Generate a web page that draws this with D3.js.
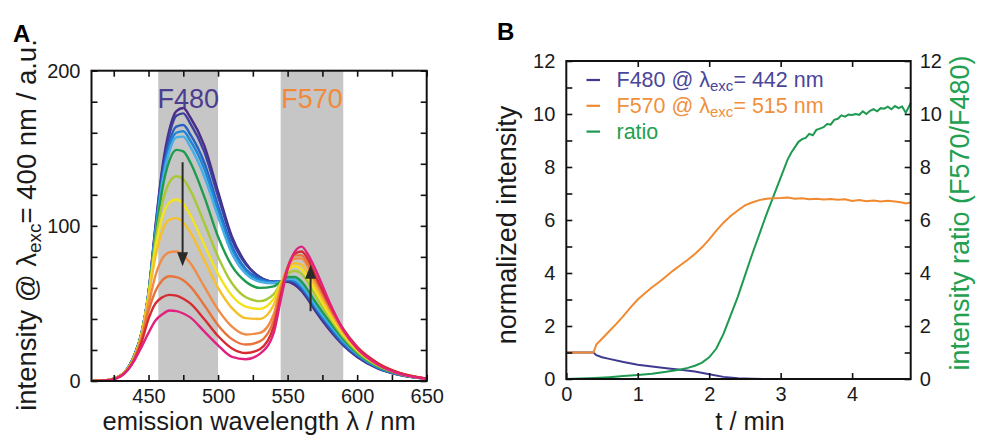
<!DOCTYPE html>
<html>
<head>
<meta charset="utf-8">
<script src="https://cdn.jsdelivr.net/npm/d3@7"></script>
<style>
  body { margin: 0; background: #fff; }
  text { font-family: "Liberation Sans", Arial, Helvetica, sans-serif; }
</style>
</head>
<body>
<script>
// ---- panel A: emission spectra ----
var wavelengths = [410, 420, 430, 440, 445, 450, 455, 460, 465, 470, 475, 480, 490, 500, 510,
                   520, 530, 540, 545, 550, 555, 560, 565, 570, 580, 590, 600, 615, 630, 650];

var spec0  = [0, 0.5, 3.5, 17, 31, 57, 100, 138, 162, 174, 176, 170, 152, 122, 93, 76, 67, 64, 64, 64, 62, 58, 52, 45, 33, 23, 15.5, 8, 4, 1.5];
var spec1  = [0, 0.5, 3.5, 17, 31, 57, 99, 136, 159, 171, 172.5, 166, 148, 119, 91, 75, 67, 64, 64, 64.5, 63, 59, 53, 46, 34, 23.5, 16, 8.3, 4.1, 1.5];
var spec2  = [0, 0.5, 3.5, 17, 31, 57, 97, 132, 154, 164, 165, 159, 141, 113, 87, 72, 66, 64, 64, 65, 64, 60, 54, 47, 35, 24, 16.5, 8.5, 4.2, 1.5];
var spec3  = [0, 0.5, 3.5, 17, 31, 57, 96, 130, 151, 160, 161, 155, 137, 110, 85, 71, 65, 63.5, 64, 65.5, 64.5, 61, 55, 48, 36, 25, 17, 8.7, 4.3, 1.5];
var spec4  = [0, 0.5, 3.5, 17, 31, 56, 95, 128, 148, 157, 157.5, 151, 132, 106, 82, 69, 64, 63, 64, 66, 65.5, 62, 56, 49, 37, 26, 17.5, 9, 4.4, 1.5];
var spec5  = [0, 0.5, 3.5, 17, 31, 56, 93, 124, 142, 149, 148, 141, 119, 93, 74, 64, 60, 61, 64, 67, 67, 64, 58, 51, 38.5, 27, 18, 9.3, 4.5, 1.5];
var spec6  = [0, 0.5, 3.5, 16, 30, 56, 90, 115, 128, 132, 130, 123, 102, 80, 63, 54, 51.5, 56, 63, 69, 71, 69, 63, 55, 41, 28.5, 19, 9.8, 4.7, 1.5];
var spec7  = [0, 0.5, 3.5, 16, 30, 55, 86, 106, 115, 117, 114, 107, 88, 69, 55, 48, 46.5, 53, 63, 71, 74, 72, 66, 58, 43, 30, 20, 10.3, 4.9, 1.5];
var spec8  = [0, 0.5, 3.5, 16, 30, 54, 80, 97, 104, 105, 102, 96, 78, 60, 47, 40.5, 40, 49, 62, 72, 76, 75, 69, 61, 45, 31, 20.5, 10.6, 5, 1.5];
var spec9  = [0, 0.4, 3.3, 15, 28, 49, 68, 79, 83, 83.5, 81, 76, 61, 46, 35, 30, 31, 43, 60, 73, 79, 79, 73, 64, 47, 32, 21, 11, 5.2, 1.5];
var spec10 = [0, 0.4, 3.2, 15, 27, 45, 58, 65, 67.5, 67, 65, 61, 49, 36, 27, 23.5, 25.5, 39, 58, 73, 81, 81, 75, 66, 48, 33, 21.5, 11.2, 5.3, 1.5];
var spec11 = [0, 0.4, 3.1, 14, 25, 40, 50, 54, 55.5, 55, 53, 50, 40, 29, 21, 18, 20.5, 35, 55, 73, 82, 83.5, 78, 68, 49.5, 33.5, 22, 11.5, 5.4, 1.5];
var spec12 = [0, 0.3, 3, 13.5, 22, 31, 39, 43, 45.4, 45, 43.5, 41, 32, 23, 15.5, 14, 17.5, 31, 52, 72, 83, 86.6, 81, 72, 51, 33, 21, 10.5, 4.8, 1.5];

var spectra = [spec0, spec1, spec2, spec3, spec4, spec5, spec6, spec7, spec8, spec9, spec10, spec11, spec12];
var spectraColors = ["#4a2c86", "#3b3f9e", "#2a62c2", "#1f88d6", "#48aee4", "#1e9b4f", "#a8c834",
                     "#f2e31c", "#f6c02c", "#f08c48", "#e9733c", "#d62b30", "#e2207e"];

var bands = [[457, 500], [545, 590]];
var bandLabels = ["F480", "F570"];
var bandColors = ["#4b3d8f", "#f08a3a"];

// arrows: wavelength, start value, tip value
var arrows = [[474.5, 141, 74], [566.5, 45, 75]];

// ---- panel B: kinetics ----
var f480Time  = [0, 0.38, 0.42, 0.5, 0.6, 0.8, 1.0, 1.2, 1.4, 1.6, 1.8, 2.0, 2.2, 2.4, 2.6, 2.8, 3.0, 4.82];
var f480Value = [1, 1, 0.9, 0.82, 0.76, 0.64, 0.54, 0.47, 0.41, 0.35, 0.28, 0.18, 0.08, 0.03, 0.01, 0, 0, 0];

var f570Time  = [0, 0.38, 0.42, 0.5, 0.6, 0.7, 0.8, 0.9, 1.0, 1.1, 1.2, 1.3, 1.4, 1.5, 1.6, 1.7, 1.8, 1.9, 2.0,
                 2.1, 2.2, 2.3, 2.4, 2.5, 2.6, 2.7, 2.8, 2.9, 3.0, 3.1, 3.2, 3.3, 3.4, 3.5, 3.6, 3.7, 3.8,
                 3.9, 4.0, 4.1, 4.2, 4.3, 4.4, 4.5, 4.6, 4.7, 4.75, 4.82];
var f570Value = [1, 1, 1.3, 1.52, 1.8, 2.08, 2.38, 2.7, 3.0, 3.24, 3.46, 3.66, 3.88, 4.1, 4.3, 4.5, 4.72, 4.97, 5.27,
                 5.6, 5.9, 6.15, 6.36, 6.55, 6.66, 6.75, 6.8, 6.82, 6.83, 6.85, 6.8, 6.82, 6.78, 6.8, 6.77, 6.79, 6.76,
                 6.78, 6.72, 6.75, 6.71, 6.74, 6.7, 6.73, 6.7, 6.66, 6.62, 6.66];

var ratioTime  = [0, 0.2, 0.4, 0.6, 0.8, 1.0, 1.2, 1.4, 1.6, 1.7, 1.8, 1.9, 2.0, 2.1, 2.2, 2.3, 2.4, 2.5, 2.6,
                  2.7, 2.8, 2.9, 3.0, 3.05, 3.1, 3.15, 3.2, 3.25, 3.3, 3.35, 3.4, 3.45, 3.5, 3.55, 3.6, 3.65,
                  3.7, 3.75, 3.8, 3.85, 3.9, 3.95, 4.0, 4.05, 4.1, 4.15, 4.2, 4.25, 4.3, 4.35, 4.4, 4.45,
                  4.5, 4.55, 4.6, 4.65, 4.7, 4.75, 4.8, 4.82];
var ratioValue = [0, 0.02, 0.04, 0.07, 0.11, 0.15, 0.2, 0.27, 0.36, 0.42, 0.5, 0.62, 0.82, 1.15, 1.7, 2.4, 3.1, 3.9, 4.7,
                  5.45, 6.2, 6.9, 7.6, 7.95, 8.3, 8.55, 8.75, 8.95, 9.05, 9.1, 9.25, 9.2, 9.4, 9.45, 9.5, 9.62,
                  9.6, 9.78, 9.82, 9.95, 9.9, 9.98, 9.96, 10.0, 9.97, 10.1, 10.0, 10.12, 10.18, 10.1, 10.22, 10.2,
                  10.28, 10.18, 10.3, 10.22, 10.28, 10.05, 10.3, 10.42];

var legendLabels = ["F480 @ λ", "F570 @ λ", "ratio"];
var legendColors = ["#3d3a8f", "#f08a30", "#1e9a50"];
var legendText   = ["#4a4699", "#f0903c", "#22a050"];
var legendTail   = ["= 442 nm", "= 515 nm", ""];

var svg = d3.select("body")
            .append("svg")
            .attr("width", 982)
            .attr("height", 436);

// ================= panel A =================
var xA = d3.scaleLinear().domain([409, 650]).range([91.5, 426.7]);
var yA = d3.scaleLinear().domain([0, 200]).range([381, 70.7]);

svg.append("clipPath").attr("id", "clipA")
   .append("rect")
   .attr("x", xA.range()[0]).attr("y", yA.range()[1])
   .attr("width", xA.range()[1] - xA.range()[0])
   .attr("height", yA.range()[0] - yA.range()[1]);

svg.selectAll(".band")
   .data(bands)
   .enter().append("rect")
   .attr("class", "band")
   .attr("x", function(d) { return xA(d[0]); })
   .attr("width", function(d) { return xA(d[1]) - xA(d[0]); })
   .attr("y", yA(200))
   .attr("height", yA(0) - yA(200))
   .attr("fill", "#c6c6c6");

var lineA = d3.line()
    .x(function(d, i) { return xA(wavelengths[i]); })
    .y(function(d) { return yA(d); })
    .curve(d3.curveMonotoneX);

svg.append("g")
   .attr("clip-path", "url(#clipA)")
   .selectAll("path")
   .data(spectra)
   .enter().append("path")
   .attr("d", lineA)
   .attr("fill", "none")
   .attr("stroke", function(d, i) { return spectraColors[i]; })
   .attr("stroke-width", 2.4);

// arrows
arrows.forEach(function(a) {
  var x = xA(a[0]), y0 = yA(a[1]), y1 = yA(a[2]);
  var dir = y1 > y0 ? 1 : -1;
  svg.append("line")
     .attr("x1", x).attr("x2", x)
     .attr("y1", y0).attr("y2", y1 - dir * 12)
     .attr("stroke", "#2a2a2a").attr("stroke-width", 2);
  svg.append("path")
     .attr("d", "M" + (x - 5.5) + "," + (y1 - dir * 14) + "L" + (x + 5.5) + "," + (y1 - dir * 14) + "L" + x + "," + y1 + "Z")
     .attr("fill", "#2a2a2a");
});

// band labels
svg.selectAll(".bandLabel")
   .data(bands)
   .enter().append("text")
   .attr("x", function(d) { return (xA(d[0]) + xA(d[1])) / 2; })
   .attr("y", 108)
   .attr("text-anchor", "middle")
   .style("font-size", "27px")
   .attr("fill", function(d, i) { return bandColors[i]; })
   .text(function(d, i) { return bandLabels[i]; });

// axes: inward ticks, no domain line, unlabeled ticks carry no text
function styleAxis(g) {
  g.select(".domain").remove();
  g.selectAll(".tick line").attr("stroke", "#111").attr("stroke-width", 1.6);
  g.selectAll(".tick text").filter(function() { return this.textContent === ""; }).remove();
  g.selectAll(".tick text").attr("fill", "#1a1a1a").style("font-size", "20px")
   .style("font-family", "'Liberation Sans', Arial, sans-serif");
}

var xTicksA = d3.range(425, 651, 25);
var yTicksA = d3.range(0, 201, 20);

svg.append("g").attr("transform", "translate(0," + yA(0) + ")")
   .call(d3.axisBottom(xA).tickValues(xTicksA).tickSizeInner(-6).tickSizeOuter(0).tickPadding(8)
         .tickFormat(function(d) { return d % 50 === 0 ? d : ""; }))
   .call(styleAxis);
svg.append("g").attr("transform", "translate(0," + yA(200) + ")")
   .call(d3.axisTop(xA).tickValues(xTicksA).tickSizeInner(-6).tickSizeOuter(0).tickFormat(""))
   .call(styleAxis);
svg.append("g").attr("transform", "translate(" + xA(409) + ",0)")
   .call(d3.axisLeft(yA).tickValues(yTicksA).tickSizeInner(-6).tickSizeOuter(0).tickPadding(11)
         .tickFormat(function(d) { return d % 100 === 0 ? d : ""; }))
   .call(styleAxis);
svg.append("g").attr("transform", "translate(" + xA(650) + ",0)")
   .call(d3.axisRight(yA).tickValues(yTicksA).tickSizeInner(-6).tickSizeOuter(0).tickFormat(""))
   .call(styleAxis);

svg.append("rect")
   .attr("x", xA(409)).attr("y", yA(200))
   .attr("width", xA(650) - xA(409)).attr("height", yA(0) - yA(200))
   .attr("fill", "none").attr("stroke", "#111").attr("stroke-width", 2);

// titles A
svg.append("text")
   .attr("x", (xA(409) + xA(650)) / 2).attr("y", 430)
   .attr("text-anchor", "middle")
   .style("font-size", "25.5px").attr("fill", "#1a1a1a")
   .text("emission wavelength λ / nm");

var yTitleA = svg.append("text")
   .attr("transform", "translate(36,225) rotate(-90)")
   .attr("text-anchor", "middle")
   .style("font-size", "27.5px").attr("fill", "#1a1a1a");
yTitleA.append("tspan").text("intensity @ λ");
yTitleA.append("tspan").attr("dy", 5).style("font-size", "19px").text("exc");
yTitleA.append("tspan").attr("dy", -5).text("= 400 nm / a.u.");

svg.append("text").attr("x", 13).attr("y", 42)
   .style("font-size", "24px").style("font-weight", "bold").text("A");

// ================= panel B =================
var xB = d3.scaleLinear().domain([0, 4.82]).range([566.3, 910.7]);
var yB = d3.scaleLinear().domain([0, 12]).range([379, 61]);

var lineB = d3.line()
    .x(function(d) { return xB(d[0]); })
    .y(function(d) { return yB(d[1]); });

var seriesB = [
  [d3.zip(f480Time, f480Value), legendColors[0]],
  [d3.zip(ratioTime, ratioValue), legendColors[2]],
  [d3.zip(f570Time, f570Value), legendColors[1]]
];

seriesB.forEach(function(s) {
  svg.append("path")
     .attr("d", lineB(s[0]))
     .attr("fill", "none")
     .attr("stroke", s[1])
     .attr("stroke-width", 2);
});

var yTicksB = d3.range(0, 13, 1);
var xTicksB = [1, 2, 3, 4];

svg.append("g").attr("transform", "translate(0," + yB(0) + ")")
   .call(d3.axisBottom(xB).tickValues([0].concat(xTicksB)).tickSizeInner(-6).tickSizeOuter(0).tickPadding(8)
         .tickFormat(d3.format("d")))
   .call(styleAxis);
svg.append("g").attr("transform", "translate(0," + yB(12) + ")")
   .call(d3.axisTop(xB).tickValues(xTicksB).tickSizeInner(-6).tickSizeOuter(0).tickFormat(""))
   .call(styleAxis);
svg.append("g").attr("transform", "translate(" + xB(0) + ",0)")
   .call(d3.axisLeft(yB).tickValues(yTicksB).tickSizeInner(-6).tickSizeOuter(0).tickPadding(11)
         .tickFormat(function(d) { return d % 2 === 0 ? d : ""; }))
   .call(styleAxis);
svg.append("g").attr("transform", "translate(" + xB(4.82) + ",0)")
   .call(d3.axisRight(yB).tickValues(yTicksB).tickSizeInner(-6).tickSizeOuter(0).tickPadding(9)
         .tickFormat(function(d) { return d % 2 === 0 ? d : ""; }))
   .call(styleAxis);

svg.append("rect")
   .attr("x", xB(0)).attr("y", yB(12))
   .attr("width", xB(4.82) - xB(0)).attr("height", yB(0) - yB(12))
   .attr("fill", "none").attr("stroke", "#111").attr("stroke-width", 2);

// legend B
legendLabels.forEach(function(lab, i) {
  var y = 80 + i * 25.8;
  svg.append("line")
     .attr("x1", 586.5).attr("x2", 600).attr("y1", y).attr("y2", y)
     .attr("stroke", legendColors[i]).attr("stroke-width", 2.2);
  var t = svg.append("text")
     .attr("x", 616.5).attr("y", y + 7)
     .style("font-size", "21.5px").attr("fill", legendText[i]);
  t.append("tspan").text(lab);
  if (legendTail[i]) {
    t.append("tspan").attr("dy", 4).style("font-size", "15px").text("exc");
    t.append("tspan").attr("dy", -4).text(legendTail[i]);
  }
});

// titles B
svg.append("text")
   .attr("x", 750).attr("y", 429.5)
   .attr("text-anchor", "middle")
   .style("font-size", "25.5px").attr("fill", "#1a1a1a")
   .text("t / min");

svg.append("text")
   .attr("transform", "translate(516,225) rotate(-90)")
   .attr("text-anchor", "middle")
   .style("font-size", "27px").attr("fill", "#1a1a1a")
   .text("normalized intensity");

svg.append("text")
   .attr("transform", "translate(969,213) rotate(-90)")
   .attr("text-anchor", "middle")
   .style("font-size", "27px").attr("fill", "#22a050")
   .text("intensity ratio (F570/F480)");

svg.append("text").attr("x", 497).attr("y", 40)
   .style("font-size", "24px").style("font-weight", "bold").text("B");
</script>
</body>
</html>
